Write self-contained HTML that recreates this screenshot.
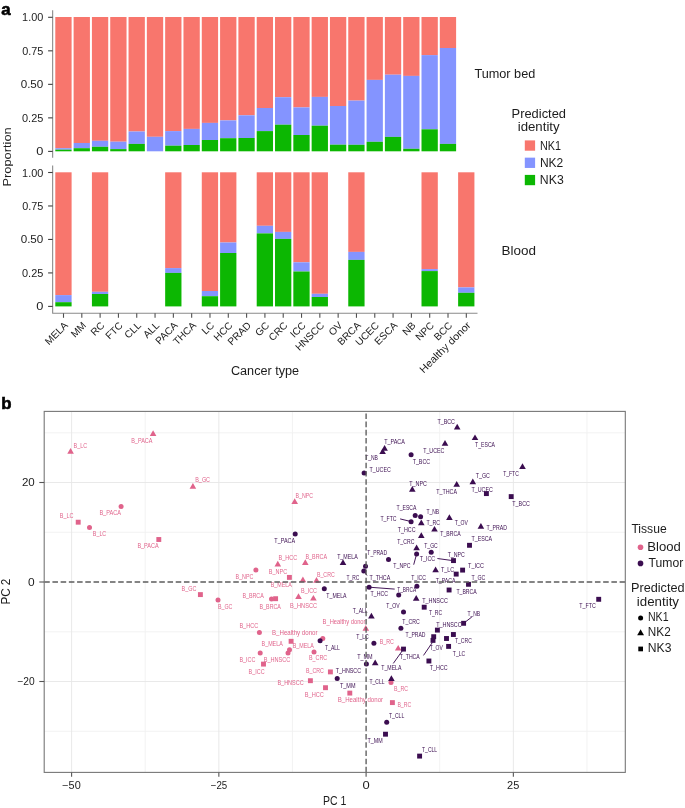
<!DOCTYPE html>
<html><head><meta charset="utf-8"><style>
html,body{margin:0;padding:0;background:#fff;width:685px;height:808px;overflow:hidden}
svg{display:block;will-change:transform}
text{font-family:"Liberation Sans", sans-serif}
</style></head><body>
<svg width="685" height="808" viewBox="0 0 685 808">
<rect width="685" height="808" fill="#fff"/>
<rect x="55.30" y="17.00" width="16.3" height="131.20" fill="#F8766D"/>
<rect x="55.30" y="148.20" width="16.3" height="1.50" fill="#8494FF"/>
<rect x="55.30" y="149.70" width="16.3" height="1.60" fill="#0CB702"/>
<rect x="73.61" y="17.00" width="16.3" height="126.00" fill="#F8766D"/>
<rect x="73.61" y="143.00" width="16.3" height="5.20" fill="#8494FF"/>
<rect x="73.61" y="148.20" width="16.3" height="3.10" fill="#0CB702"/>
<rect x="91.92" y="17.00" width="16.3" height="123.80" fill="#F8766D"/>
<rect x="91.92" y="140.80" width="16.3" height="6.00" fill="#8494FF"/>
<rect x="91.92" y="146.80" width="16.3" height="4.50" fill="#0CB702"/>
<rect x="110.23" y="17.00" width="16.3" height="124.70" fill="#F8766D"/>
<rect x="110.23" y="141.70" width="16.3" height="7.40" fill="#8494FF"/>
<rect x="110.23" y="149.10" width="16.3" height="2.20" fill="#0CB702"/>
<rect x="128.54" y="17.00" width="16.3" height="114.50" fill="#F8766D"/>
<rect x="128.54" y="131.50" width="16.3" height="12.40" fill="#8494FF"/>
<rect x="128.54" y="143.90" width="16.3" height="7.40" fill="#0CB702"/>
<rect x="146.85" y="17.00" width="16.3" height="119.80" fill="#F8766D"/>
<rect x="146.85" y="136.80" width="16.3" height="14.50" fill="#8494FF"/>
<rect x="165.16" y="17.00" width="16.3" height="114.10" fill="#F8766D"/>
<rect x="165.16" y="131.10" width="16.3" height="14.60" fill="#8494FF"/>
<rect x="165.16" y="145.70" width="16.3" height="5.60" fill="#0CB702"/>
<rect x="183.47" y="17.00" width="16.3" height="111.90" fill="#F8766D"/>
<rect x="183.47" y="128.90" width="16.3" height="16.10" fill="#8494FF"/>
<rect x="183.47" y="145.00" width="16.3" height="6.30" fill="#0CB702"/>
<rect x="201.78" y="17.00" width="16.3" height="105.90" fill="#F8766D"/>
<rect x="201.78" y="122.90" width="16.3" height="17.10" fill="#8494FF"/>
<rect x="201.78" y="140.00" width="16.3" height="11.30" fill="#0CB702"/>
<rect x="220.09" y="17.00" width="16.3" height="103.40" fill="#F8766D"/>
<rect x="220.09" y="120.40" width="16.3" height="17.80" fill="#8494FF"/>
<rect x="220.09" y="138.20" width="16.3" height="13.10" fill="#0CB702"/>
<rect x="238.40" y="17.00" width="16.3" height="98.30" fill="#F8766D"/>
<rect x="238.40" y="115.30" width="16.3" height="22.70" fill="#8494FF"/>
<rect x="238.40" y="138.00" width="16.3" height="13.30" fill="#0CB702"/>
<rect x="256.71" y="17.00" width="16.3" height="91.00" fill="#F8766D"/>
<rect x="256.71" y="108.00" width="16.3" height="23.10" fill="#8494FF"/>
<rect x="256.71" y="131.10" width="16.3" height="20.20" fill="#0CB702"/>
<rect x="275.02" y="17.00" width="16.3" height="80.20" fill="#F8766D"/>
<rect x="275.02" y="97.20" width="16.3" height="27.50" fill="#8494FF"/>
<rect x="275.02" y="124.70" width="16.3" height="26.60" fill="#0CB702"/>
<rect x="293.33" y="17.00" width="16.3" height="90.40" fill="#F8766D"/>
<rect x="293.33" y="107.40" width="16.3" height="27.60" fill="#8494FF"/>
<rect x="293.33" y="135.00" width="16.3" height="16.30" fill="#0CB702"/>
<rect x="311.64" y="17.00" width="16.3" height="79.90" fill="#F8766D"/>
<rect x="311.64" y="96.90" width="16.3" height="28.80" fill="#8494FF"/>
<rect x="311.64" y="125.70" width="16.3" height="25.60" fill="#0CB702"/>
<rect x="329.95" y="17.00" width="16.3" height="89.00" fill="#F8766D"/>
<rect x="329.95" y="106.00" width="16.3" height="38.70" fill="#8494FF"/>
<rect x="329.95" y="144.70" width="16.3" height="6.60" fill="#0CB702"/>
<rect x="348.26" y="17.00" width="16.3" height="83.60" fill="#F8766D"/>
<rect x="348.26" y="100.60" width="16.3" height="44.20" fill="#8494FF"/>
<rect x="348.26" y="144.80" width="16.3" height="6.50" fill="#0CB702"/>
<rect x="366.57" y="17.00" width="16.3" height="62.90" fill="#F8766D"/>
<rect x="366.57" y="79.90" width="16.3" height="61.90" fill="#8494FF"/>
<rect x="366.57" y="141.80" width="16.3" height="9.50" fill="#0CB702"/>
<rect x="384.88" y="17.00" width="16.3" height="57.70" fill="#F8766D"/>
<rect x="384.88" y="74.70" width="16.3" height="62.20" fill="#8494FF"/>
<rect x="384.88" y="136.90" width="16.3" height="14.40" fill="#0CB702"/>
<rect x="403.19" y="17.00" width="16.3" height="58.90" fill="#F8766D"/>
<rect x="403.19" y="75.90" width="16.3" height="72.90" fill="#8494FF"/>
<rect x="403.19" y="148.80" width="16.3" height="2.50" fill="#0CB702"/>
<rect x="421.50" y="17.00" width="16.3" height="38.10" fill="#F8766D"/>
<rect x="421.50" y="55.10" width="16.3" height="74.20" fill="#8494FF"/>
<rect x="421.50" y="129.30" width="16.3" height="22.00" fill="#0CB702"/>
<rect x="439.81" y="17.00" width="16.3" height="31.00" fill="#F8766D"/>
<rect x="439.81" y="48.00" width="16.3" height="95.90" fill="#8494FF"/>
<rect x="439.81" y="143.90" width="16.3" height="7.40" fill="#0CB702"/>
<rect x="55.30" y="172.30" width="16.3" height="122.80" fill="#F8766D"/>
<rect x="55.30" y="295.10" width="16.3" height="7.10" fill="#8494FF"/>
<rect x="55.30" y="302.20" width="16.3" height="4.20" fill="#0CB702"/>
<rect x="91.92" y="172.30" width="16.3" height="119.50" fill="#F8766D"/>
<rect x="91.92" y="291.80" width="16.3" height="2.20" fill="#8494FF"/>
<rect x="91.92" y="294.00" width="16.3" height="12.40" fill="#0CB702"/>
<rect x="165.16" y="172.30" width="16.3" height="95.80" fill="#F8766D"/>
<rect x="165.16" y="268.10" width="16.3" height="4.80" fill="#8494FF"/>
<rect x="165.16" y="272.90" width="16.3" height="33.50" fill="#0CB702"/>
<rect x="201.78" y="172.30" width="16.3" height="118.70" fill="#F8766D"/>
<rect x="201.78" y="291.00" width="16.3" height="5.20" fill="#8494FF"/>
<rect x="201.78" y="296.20" width="16.3" height="10.20" fill="#0CB702"/>
<rect x="220.09" y="172.30" width="16.3" height="70.20" fill="#F8766D"/>
<rect x="220.09" y="242.50" width="16.3" height="10.50" fill="#8494FF"/>
<rect x="220.09" y="253.00" width="16.3" height="53.40" fill="#0CB702"/>
<rect x="256.71" y="172.30" width="16.3" height="53.50" fill="#F8766D"/>
<rect x="256.71" y="225.80" width="16.3" height="7.60" fill="#8494FF"/>
<rect x="256.71" y="233.40" width="16.3" height="73.00" fill="#0CB702"/>
<rect x="275.02" y="172.30" width="16.3" height="59.60" fill="#F8766D"/>
<rect x="275.02" y="231.90" width="16.3" height="7.00" fill="#8494FF"/>
<rect x="275.02" y="238.90" width="16.3" height="67.50" fill="#0CB702"/>
<rect x="293.33" y="172.30" width="16.3" height="90.00" fill="#F8766D"/>
<rect x="293.33" y="262.30" width="16.3" height="9.20" fill="#8494FF"/>
<rect x="293.33" y="271.50" width="16.3" height="34.90" fill="#0CB702"/>
<rect x="311.64" y="172.30" width="16.3" height="121.50" fill="#F8766D"/>
<rect x="311.64" y="293.80" width="16.3" height="3.20" fill="#8494FF"/>
<rect x="311.64" y="297.00" width="16.3" height="9.40" fill="#0CB702"/>
<rect x="348.26" y="172.30" width="16.3" height="79.60" fill="#F8766D"/>
<rect x="348.26" y="251.90" width="16.3" height="8.00" fill="#8494FF"/>
<rect x="348.26" y="259.90" width="16.3" height="46.50" fill="#0CB702"/>
<rect x="421.50" y="172.30" width="16.3" height="96.80" fill="#F8766D"/>
<rect x="421.50" y="269.10" width="16.3" height="2.00" fill="#8494FF"/>
<rect x="421.50" y="271.10" width="16.3" height="35.30" fill="#0CB702"/>
<rect x="458.12" y="172.30" width="16.3" height="115.10" fill="#F8766D"/>
<rect x="458.12" y="287.40" width="16.3" height="5.40" fill="#8494FF"/>
<rect x="458.12" y="292.80" width="16.3" height="13.60" fill="#0CB702"/>
<path d="M52.65 10.3V157.8" stroke="#8a8a8a" stroke-width="1.1" fill="none"/>
<path d="M52.65 165.5V313.3H477.5" stroke="#8a8a8a" stroke-width="1.1" fill="none" stroke-linejoin="round"/>
<path d="M48.1 17.30H52.65" stroke="#404040" stroke-width="1.1"/>
<text x="22.12" y="21.30" font-size="10.0" fill="#1c1c1c" textLength="21.15" lengthAdjust="spacingAndGlyphs">1.00</text>
<path d="M48.1 50.83H52.65" stroke="#404040" stroke-width="1.1"/>
<text x="22.23" y="54.83" font-size="10.0" fill="#1c1c1c" textLength="21.08" lengthAdjust="spacingAndGlyphs">0.75</text>
<path d="M48.1 84.35H52.65" stroke="#404040" stroke-width="1.1"/>
<text x="20.70" y="88.35" font-size="10.0" fill="#1c1c1c" textLength="22.61" lengthAdjust="spacingAndGlyphs">0.50</text>
<path d="M48.1 117.87H52.65" stroke="#404040" stroke-width="1.1"/>
<text x="22.02" y="121.87" font-size="10.0" fill="#1c1c1c" textLength="21.29" lengthAdjust="spacingAndGlyphs">0.25</text>
<path d="M48.1 151.40H52.65" stroke="#404040" stroke-width="1.1"/>
<text x="36.25" y="155.40" font-size="10.0" fill="#1c1c1c" textLength="7.10" lengthAdjust="spacingAndGlyphs">0</text>
<path d="M48.1 172.50H52.65" stroke="#404040" stroke-width="1.1"/>
<text x="22.12" y="176.50" font-size="10.0" fill="#1c1c1c" textLength="21.15" lengthAdjust="spacingAndGlyphs">1.00</text>
<path d="M48.1 205.97H52.65" stroke="#404040" stroke-width="1.1"/>
<text x="22.23" y="209.97" font-size="10.0" fill="#1c1c1c" textLength="21.08" lengthAdjust="spacingAndGlyphs">0.75</text>
<path d="M48.1 239.45H52.65" stroke="#404040" stroke-width="1.1"/>
<text x="20.70" y="243.45" font-size="10.0" fill="#1c1c1c" textLength="22.61" lengthAdjust="spacingAndGlyphs">0.50</text>
<path d="M48.1 272.92H52.65" stroke="#404040" stroke-width="1.1"/>
<text x="22.02" y="276.92" font-size="10.0" fill="#1c1c1c" textLength="21.29" lengthAdjust="spacingAndGlyphs">0.25</text>
<path d="M48.1 306.40H52.65" stroke="#404040" stroke-width="1.1"/>
<text x="36.25" y="310.40" font-size="10.0" fill="#1c1c1c" textLength="7.10" lengthAdjust="spacingAndGlyphs">0</text>
<path d="M63.50 313.3V317.8" stroke="#505050" stroke-width="1.1"/>
<path d="M81.81 313.3V317.8" stroke="#505050" stroke-width="1.1"/>
<path d="M100.12 313.3V317.8" stroke="#505050" stroke-width="1.1"/>
<path d="M118.43 313.3V317.8" stroke="#505050" stroke-width="1.1"/>
<path d="M136.74 313.3V317.8" stroke="#505050" stroke-width="1.1"/>
<path d="M155.05 313.3V317.8" stroke="#505050" stroke-width="1.1"/>
<path d="M173.36 313.3V317.8" stroke="#505050" stroke-width="1.1"/>
<path d="M191.67 313.3V317.8" stroke="#505050" stroke-width="1.1"/>
<path d="M209.98 313.3V317.8" stroke="#505050" stroke-width="1.1"/>
<path d="M228.29 313.3V317.8" stroke="#505050" stroke-width="1.1"/>
<path d="M246.60 313.3V317.8" stroke="#505050" stroke-width="1.1"/>
<path d="M264.91 313.3V317.8" stroke="#505050" stroke-width="1.1"/>
<path d="M283.22 313.3V317.8" stroke="#505050" stroke-width="1.1"/>
<path d="M301.53 313.3V317.8" stroke="#505050" stroke-width="1.1"/>
<path d="M319.84 313.3V317.8" stroke="#505050" stroke-width="1.1"/>
<path d="M338.15 313.3V317.8" stroke="#505050" stroke-width="1.1"/>
<path d="M356.46 313.3V317.8" stroke="#505050" stroke-width="1.1"/>
<path d="M374.77 313.3V317.8" stroke="#505050" stroke-width="1.1"/>
<path d="M393.08 313.3V317.8" stroke="#505050" stroke-width="1.1"/>
<path d="M411.39 313.3V317.8" stroke="#505050" stroke-width="1.1"/>
<path d="M429.70 313.3V317.8" stroke="#505050" stroke-width="1.1"/>
<path d="M448.01 313.3V317.8" stroke="#505050" stroke-width="1.1"/>
<path d="M466.32 313.3V317.8" stroke="#505050" stroke-width="1.1"/>
<text x="63.40" y="320.90" font-size="10.1" fill="#1c1c1c" text-anchor="end" transform="rotate(-45 63.40 320.90)" dy="7.2">MELA</text>
<text x="81.71" y="320.90" font-size="10.1" fill="#1c1c1c" text-anchor="end" transform="rotate(-45 81.71 320.90)" dy="7.2">MM</text>
<text x="100.02" y="320.90" font-size="10.1" fill="#1c1c1c" text-anchor="end" transform="rotate(-45 100.02 320.90)" dy="7.2">RC</text>
<text x="118.33" y="320.90" font-size="10.1" fill="#1c1c1c" text-anchor="end" transform="rotate(-45 118.33 320.90)" dy="7.2">FTC</text>
<text x="136.64" y="320.90" font-size="10.1" fill="#1c1c1c" text-anchor="end" transform="rotate(-45 136.64 320.90)" dy="7.2">CLL</text>
<text x="154.95" y="320.90" font-size="10.1" fill="#1c1c1c" text-anchor="end" transform="rotate(-45 154.95 320.90)" dy="7.2">ALL</text>
<text x="173.26" y="320.90" font-size="10.1" fill="#1c1c1c" text-anchor="end" transform="rotate(-45 173.26 320.90)" dy="7.2">PACA</text>
<text x="191.57" y="320.90" font-size="10.1" fill="#1c1c1c" text-anchor="end" transform="rotate(-45 191.57 320.90)" dy="7.2">THCA</text>
<text x="209.88" y="320.90" font-size="10.1" fill="#1c1c1c" text-anchor="end" transform="rotate(-45 209.88 320.90)" dy="7.2">LC</text>
<text x="228.19" y="320.90" font-size="10.1" fill="#1c1c1c" text-anchor="end" transform="rotate(-45 228.19 320.90)" dy="7.2">HCC</text>
<text x="246.50" y="320.90" font-size="10.1" fill="#1c1c1c" text-anchor="end" transform="rotate(-45 246.50 320.90)" dy="7.2">PRAD</text>
<text x="264.81" y="320.90" font-size="10.1" fill="#1c1c1c" text-anchor="end" transform="rotate(-45 264.81 320.90)" dy="7.2">GC</text>
<text x="283.12" y="320.90" font-size="10.1" fill="#1c1c1c" text-anchor="end" transform="rotate(-45 283.12 320.90)" dy="7.2">CRC</text>
<text x="301.43" y="320.90" font-size="10.1" fill="#1c1c1c" text-anchor="end" transform="rotate(-45 301.43 320.90)" dy="7.2">ICC</text>
<text x="319.74" y="320.90" font-size="10.1" fill="#1c1c1c" text-anchor="end" transform="rotate(-45 319.74 320.90)" dy="7.2">HNSCC</text>
<text x="338.05" y="320.90" font-size="10.1" fill="#1c1c1c" text-anchor="end" transform="rotate(-45 338.05 320.90)" dy="7.2">OV</text>
<text x="356.36" y="320.90" font-size="10.1" fill="#1c1c1c" text-anchor="end" transform="rotate(-45 356.36 320.90)" dy="7.2">BRCA</text>
<text x="374.67" y="320.90" font-size="10.1" fill="#1c1c1c" text-anchor="end" transform="rotate(-45 374.67 320.90)" dy="7.2">UCEC</text>
<text x="392.98" y="320.90" font-size="10.1" fill="#1c1c1c" text-anchor="end" transform="rotate(-45 392.98 320.90)" dy="7.2">ESCA</text>
<text x="411.29" y="320.90" font-size="10.1" fill="#1c1c1c" text-anchor="end" transform="rotate(-45 411.29 320.90)" dy="7.2">NB</text>
<text x="429.60" y="320.90" font-size="10.1" fill="#1c1c1c" text-anchor="end" transform="rotate(-45 429.60 320.90)" dy="7.2">NPC</text>
<text x="447.91" y="320.90" font-size="10.1" fill="#1c1c1c" text-anchor="end" transform="rotate(-45 447.91 320.90)" dy="7.2">BCC</text>
<text x="466.22" y="320.90" font-size="10.4" fill="#1c1c1c" text-anchor="end" transform="rotate(-45 466.22 320.90)" dy="7.2" textLength="67.4" lengthAdjust="spacingAndGlyphs">Healthy donor</text>
<text x="1.20" y="14.60" font-size="16.8" fill="#000" font-weight="bold" stroke="#000" stroke-width="0.6">a</text>
<text x="0" y="0" font-size="11.5" fill="#1c1c1c" textLength="59.08" lengthAdjust="spacingAndGlyphs" transform="translate(11.10 186.45) rotate(-90)">Proportion</text>
<text x="230.95" y="374.60" font-size="12" fill="#1c1c1c" textLength="68.21" lengthAdjust="spacingAndGlyphs">Cancer type</text>
<text x="474.42" y="78.10" font-size="12" fill="#1c1c1c" textLength="60.90" lengthAdjust="spacingAndGlyphs">Tumor bed</text>
<text x="501.49" y="255.30" font-size="12" fill="#1c1c1c" textLength="34.48" lengthAdjust="spacingAndGlyphs">Blood</text>
<text x="511.54" y="117.80" font-size="12" fill="#1c1c1c" textLength="54.49" lengthAdjust="spacingAndGlyphs">Predicted</text>
<text x="517.71" y="131.00" font-size="12" fill="#1c1c1c" textLength="41.92" lengthAdjust="spacingAndGlyphs">identity</text>
<rect x="524.8" y="140.40" width="10.3" height="10.3" fill="#F8766D"/>
<text x="540.01" y="149.60" font-size="12" fill="#1c1c1c" textLength="21.02" lengthAdjust="spacingAndGlyphs">NK1</text>
<rect x="524.8" y="157.65" width="10.3" height="10.3" fill="#8494FF"/>
<text x="539.91" y="166.85" font-size="12" fill="#1c1c1c" textLength="23.39" lengthAdjust="spacingAndGlyphs">NK2</text>
<rect x="524.8" y="174.90" width="10.3" height="10.3" fill="#0CB702"/>
<text x="539.89" y="184.10" font-size="12" fill="#1c1c1c" textLength="23.85" lengthAdjust="spacingAndGlyphs">NK3</text>
<text x="1.20" y="408.80" font-size="16.8" fill="#000" font-weight="bold" stroke="#000" stroke-width="0.6">b</text>
<g stroke-width="0.9" fill="none">
<path d="M145.23 411.4V772.4" stroke="#F1F1F1"/>
<path d="M292.48 411.4V772.4" stroke="#F1F1F1"/>
<path d="M439.73 411.4V772.4" stroke="#F1F1F1"/>
<path d="M586.98 411.4V772.4" stroke="#F1F1F1"/>
<path d="M44.2 731.25H625.3" stroke="#F1F1F1"/>
<path d="M44.2 631.75H625.3" stroke="#F1F1F1"/>
<path d="M44.2 532.25H625.3" stroke="#F1F1F1"/>
<path d="M44.2 432.75H625.3" stroke="#F1F1F1"/>
<path d="M71.60 411.4V772.4" stroke="#E6E6E6"/>
<path d="M218.85 411.4V772.4" stroke="#E6E6E6"/>
<path d="M513.35 411.4V772.4" stroke="#E6E6E6"/>
<path d="M44.2 681.50H625.3" stroke="#E6E6E6"/>
<path d="M44.2 482.50H625.3" stroke="#E6E6E6"/>
</g>
<text x="73.61" y="447.70" font-size="6.4" fill="#E0638B" textLength="13.55" lengthAdjust="spacingAndGlyphs">B<tspan dy="-0.9">_</tspan><tspan dy="0.9">LC</tspan></text>
<text x="131.20" y="443.10" font-size="6.4" fill="#E0638B" textLength="21.26" lengthAdjust="spacingAndGlyphs">B<tspan dy="-0.9">_</tspan><tspan dy="0.9">PACA</tspan></text>
<text x="195.20" y="482.10" font-size="6.4" fill="#E0638B" textLength="14.86" lengthAdjust="spacingAndGlyphs">B<tspan dy="-0.9">_</tspan><tspan dy="0.9">GC</tspan></text>
<text x="99.39" y="514.90" font-size="6.4" fill="#E0638B" textLength="21.57" lengthAdjust="spacingAndGlyphs">B<tspan dy="-0.9">_</tspan><tspan dy="0.9">PACA</tspan></text>
<text x="59.80" y="518.10" font-size="6.4" fill="#E0638B" textLength="13.66" lengthAdjust="spacingAndGlyphs">B<tspan dy="-0.9">_</tspan><tspan dy="0.9">LC</tspan></text>
<text x="92.81" y="536.10" font-size="6.4" fill="#E0638B" textLength="13.45" lengthAdjust="spacingAndGlyphs">B<tspan dy="-0.9">_</tspan><tspan dy="0.9">LC</tspan></text>
<text x="137.40" y="547.80" font-size="6.4" fill="#E0638B" textLength="21.26" lengthAdjust="spacingAndGlyphs">B<tspan dy="-0.9">_</tspan><tspan dy="0.9">PACA</tspan></text>
<text x="295.62" y="497.70" font-size="6.4" fill="#E0638B" textLength="17.43" lengthAdjust="spacingAndGlyphs">B<tspan dy="-0.9">_</tspan><tspan dy="0.9">NPC</tspan></text>
<text x="235.61" y="579.00" font-size="6.4" fill="#E0638B" textLength="17.74" lengthAdjust="spacingAndGlyphs">B<tspan dy="-0.9">_</tspan><tspan dy="0.9">NPC</tspan></text>
<text x="181.61" y="591.10" font-size="6.4" fill="#E0638B" textLength="14.75" lengthAdjust="spacingAndGlyphs">B<tspan dy="-0.9">_</tspan><tspan dy="0.9">GC</tspan></text>
<text x="217.92" y="608.80" font-size="6.4" fill="#E0638B" textLength="14.44" lengthAdjust="spacingAndGlyphs">B<tspan dy="-0.9">_</tspan><tspan dy="0.9">GC</tspan></text>
<text x="278.60" y="560.30" font-size="6.4" fill="#E0638B" textLength="18.56" lengthAdjust="spacingAndGlyphs">B<tspan dy="-0.9">_</tspan><tspan dy="0.9">HCC</tspan></text>
<text x="305.51" y="558.90" font-size="6.4" fill="#E0638B" textLength="21.55" lengthAdjust="spacingAndGlyphs">B<tspan dy="-0.9">_</tspan><tspan dy="0.9">BRCA</tspan></text>
<text x="268.80" y="573.70" font-size="6.4" fill="#E0638B" textLength="18.36" lengthAdjust="spacingAndGlyphs">B<tspan dy="-0.9">_</tspan><tspan dy="0.9">NPC</tspan></text>
<text x="270.82" y="586.90" font-size="6.4" fill="#E0638B" textLength="20.85" lengthAdjust="spacingAndGlyphs">B<tspan dy="-0.9">_</tspan><tspan dy="0.9">MELA</tspan></text>
<text x="316.92" y="577.20" font-size="6.4" fill="#E0638B" textLength="17.83" lengthAdjust="spacingAndGlyphs">B<tspan dy="-0.9">_</tspan><tspan dy="0.9">CRC</tspan></text>
<text x="301.00" y="592.50" font-size="6.4" fill="#E0638B" textLength="16.06" lengthAdjust="spacingAndGlyphs">B<tspan dy="-0.9">_</tspan><tspan dy="0.9">ICC</tspan></text>
<text x="290.09" y="607.60" font-size="6.4" fill="#E0638B" textLength="26.98" lengthAdjust="spacingAndGlyphs">B<tspan dy="-0.9">_</tspan><tspan dy="0.9">HNSCC</tspan></text>
<text x="242.41" y="598.00" font-size="6.4" fill="#E0638B" textLength="21.35" lengthAdjust="spacingAndGlyphs">B<tspan dy="-0.9">_</tspan><tspan dy="0.9">BRCA</tspan></text>
<text x="259.61" y="609.30" font-size="6.4" fill="#E0638B" textLength="21.24" lengthAdjust="spacingAndGlyphs">B<tspan dy="-0.9">_</tspan><tspan dy="0.9">BRCA</tspan></text>
<text x="239.40" y="628.10" font-size="6.4" fill="#E0638B" textLength="18.76" lengthAdjust="spacingAndGlyphs">B<tspan dy="-0.9">_</tspan><tspan dy="0.9">HCC</tspan></text>
<text x="272.05" y="635.30" font-size="6.4" fill="#E0638B" textLength="45.41" lengthAdjust="spacingAndGlyphs">B<tspan dy="-0.9">_</tspan><tspan dy="0.9">Healthy donor</tspan></text>
<text x="261.61" y="646.00" font-size="6.4" fill="#E0638B" textLength="21.15" lengthAdjust="spacingAndGlyphs">B<tspan dy="-0.9">_</tspan><tspan dy="0.9">MELA</tspan></text>
<text x="292.71" y="647.90" font-size="6.4" fill="#E0638B" textLength="21.15" lengthAdjust="spacingAndGlyphs">B<tspan dy="-0.9">_</tspan><tspan dy="0.9">MELA</tspan></text>
<text x="263.69" y="661.60" font-size="6.4" fill="#E0638B" textLength="26.67" lengthAdjust="spacingAndGlyphs">B<tspan dy="-0.9">_</tspan><tspan dy="0.9">HNSCC</tspan></text>
<text x="309.01" y="660.40" font-size="6.4" fill="#E0638B" textLength="18.14" lengthAdjust="spacingAndGlyphs">B<tspan dy="-0.9">_</tspan><tspan dy="0.9">CRC</tspan></text>
<text x="239.41" y="661.80" font-size="6.4" fill="#E0638B" textLength="15.95" lengthAdjust="spacingAndGlyphs">B<tspan dy="-0.9">_</tspan><tspan dy="0.9">ICC</tspan></text>
<text x="248.61" y="673.50" font-size="6.4" fill="#E0638B" textLength="15.95" lengthAdjust="spacingAndGlyphs">B<tspan dy="-0.9">_</tspan><tspan dy="0.9">ICC</tspan></text>
<text x="306.02" y="673.00" font-size="6.4" fill="#E0638B" textLength="17.83" lengthAdjust="spacingAndGlyphs">B<tspan dy="-0.9">_</tspan><tspan dy="0.9">CRC</tspan></text>
<text x="277.40" y="684.90" font-size="6.4" fill="#E0638B" textLength="26.26" lengthAdjust="spacingAndGlyphs">B<tspan dy="-0.9">_</tspan><tspan dy="0.9">HNSCC</tspan></text>
<text x="304.79" y="696.60" font-size="6.4" fill="#E0638B" textLength="19.07" lengthAdjust="spacingAndGlyphs">B<tspan dy="-0.9">_</tspan><tspan dy="0.9">HCC</tspan></text>
<text x="337.75" y="702.20" font-size="6.4" fill="#E0638B" textLength="45.30" lengthAdjust="spacingAndGlyphs">B<tspan dy="-0.9">_</tspan><tspan dy="0.9">Healthy donor</tspan></text>
<text x="322.58" y="624.40" font-size="6.4" fill="#E0638B" textLength="42.87" lengthAdjust="spacingAndGlyphs">B<tspan dy="-0.9">_</tspan><tspan dy="0.9">Healthy donor</tspan></text>
<text x="379.82" y="644.20" font-size="6.4" fill="#E0638B" textLength="14.14" lengthAdjust="spacingAndGlyphs">B<tspan dy="-0.9">_</tspan><tspan dy="0.9">RC</tspan></text>
<text x="394.02" y="691.10" font-size="6.4" fill="#E0638B" textLength="13.93" lengthAdjust="spacingAndGlyphs">B<tspan dy="-0.9">_</tspan><tspan dy="0.9">RC</tspan></text>
<text x="397.43" y="706.50" font-size="6.4" fill="#E0638B" textLength="13.72" lengthAdjust="spacingAndGlyphs">B<tspan dy="-0.9">_</tspan><tspan dy="0.9">RC</tspan></text>
<text x="384.13" y="444.20" font-size="6.4" fill="#3B0D50" textLength="20.73" lengthAdjust="spacingAndGlyphs">T<tspan dy="-0.9">_</tspan><tspan dy="0.9">PACA</tspan></text>
<text x="365.14" y="460.20" font-size="6.4" fill="#3B0D50" textLength="12.78" lengthAdjust="spacingAndGlyphs">T<tspan dy="-0.9">_</tspan><tspan dy="0.9">NB</tspan></text>
<text x="412.63" y="464.20" font-size="6.4" fill="#3B0D50" textLength="17.52" lengthAdjust="spacingAndGlyphs">T<tspan dy="-0.9">_</tspan><tspan dy="0.9">BCC</tspan></text>
<text x="423.13" y="452.90" font-size="6.4" fill="#3B0D50" textLength="21.32" lengthAdjust="spacingAndGlyphs">T<tspan dy="-0.9">_</tspan><tspan dy="0.9">UCEC</tspan></text>
<text x="437.43" y="423.70" font-size="6.4" fill="#3B0D50" textLength="17.52" lengthAdjust="spacingAndGlyphs">T<tspan dy="-0.9">_</tspan><tspan dy="0.9">BCC</tspan></text>
<text x="369.53" y="471.90" font-size="6.4" fill="#3B0D50" textLength="21.22" lengthAdjust="spacingAndGlyphs">T<tspan dy="-0.9">_</tspan><tspan dy="0.9">UCEC</tspan></text>
<text x="475.04" y="447.40" font-size="6.4" fill="#3B0D50" textLength="20.02" lengthAdjust="spacingAndGlyphs">T<tspan dy="-0.9">_</tspan><tspan dy="0.9">ESCA</tspan></text>
<text x="503.14" y="476.30" font-size="6.4" fill="#3B0D50" textLength="15.70" lengthAdjust="spacingAndGlyphs">T<tspan dy="-0.9">_</tspan><tspan dy="0.9">FTC</tspan></text>
<text x="475.83" y="478.10" font-size="6.4" fill="#3B0D50" textLength="14.12" lengthAdjust="spacingAndGlyphs">T<tspan dy="-0.9">_</tspan><tspan dy="0.9">GC</tspan></text>
<text x="436.23" y="494.00" font-size="6.4" fill="#3B0D50" textLength="20.73" lengthAdjust="spacingAndGlyphs">T<tspan dy="-0.9">_</tspan><tspan dy="0.9">THCA</tspan></text>
<text x="471.43" y="491.50" font-size="6.4" fill="#3B0D50" textLength="21.42" lengthAdjust="spacingAndGlyphs">T<tspan dy="-0.9">_</tspan><tspan dy="0.9">UCEC</tspan></text>
<text x="512.33" y="505.70" font-size="6.4" fill="#3B0D50" textLength="17.52" lengthAdjust="spacingAndGlyphs">T<tspan dy="-0.9">_</tspan><tspan dy="0.9">BCC</tspan></text>
<text x="454.64" y="525.10" font-size="6.4" fill="#3B0D50" textLength="13.24" lengthAdjust="spacingAndGlyphs">T<tspan dy="-0.9">_</tspan><tspan dy="0.9">OV</tspan></text>
<text x="486.44" y="529.80" font-size="6.4" fill="#3B0D50" textLength="20.57" lengthAdjust="spacingAndGlyphs">T<tspan dy="-0.9">_</tspan><tspan dy="0.9">PRAD</tspan></text>
<text x="440.34" y="536.30" font-size="6.4" fill="#3B0D50" textLength="20.22" lengthAdjust="spacingAndGlyphs">T<tspan dy="-0.9">_</tspan><tspan dy="0.9">BRCA</tspan></text>
<text x="471.43" y="541.30" font-size="6.4" fill="#3B0D50" textLength="20.73" lengthAdjust="spacingAndGlyphs">T<tspan dy="-0.9">_</tspan><tspan dy="0.9">ESCA</tspan></text>
<text x="409.33" y="485.70" font-size="6.4" fill="#3B0D50" textLength="17.62" lengthAdjust="spacingAndGlyphs">T<tspan dy="-0.9">_</tspan><tspan dy="0.9">NPC</tspan></text>
<text x="396.54" y="509.60" font-size="6.4" fill="#3B0D50" textLength="19.92" lengthAdjust="spacingAndGlyphs">T<tspan dy="-0.9">_</tspan><tspan dy="0.9">ESCA</tspan></text>
<text x="426.44" y="513.70" font-size="6.4" fill="#3B0D50" textLength="12.78" lengthAdjust="spacingAndGlyphs">T<tspan dy="-0.9">_</tspan><tspan dy="0.9">NB</tspan></text>
<text x="380.44" y="521.30" font-size="6.4" fill="#3B0D50" textLength="16.11" lengthAdjust="spacingAndGlyphs">T<tspan dy="-0.9">_</tspan><tspan dy="0.9">FTC</tspan></text>
<text x="426.44" y="524.60" font-size="6.4" fill="#3B0D50" textLength="13.61" lengthAdjust="spacingAndGlyphs">T<tspan dy="-0.9">_</tspan><tspan dy="0.9">RC</tspan></text>
<text x="397.73" y="532.40" font-size="6.4" fill="#3B0D50" textLength="17.82" lengthAdjust="spacingAndGlyphs">T<tspan dy="-0.9">_</tspan><tspan dy="0.9">HCC</tspan></text>
<text x="397.24" y="544.10" font-size="6.4" fill="#3B0D50" textLength="17.11" lengthAdjust="spacingAndGlyphs">T<tspan dy="-0.9">_</tspan><tspan dy="0.9">CRC</tspan></text>
<text x="424.24" y="548.10" font-size="6.4" fill="#3B0D50" textLength="13.50" lengthAdjust="spacingAndGlyphs">T<tspan dy="-0.9">_</tspan><tspan dy="0.9">GC</tspan></text>
<text x="367.34" y="555.40" font-size="6.4" fill="#3B0D50" textLength="19.75" lengthAdjust="spacingAndGlyphs">T<tspan dy="-0.9">_</tspan><tspan dy="0.9">PRAD</tspan></text>
<text x="393.34" y="568.10" font-size="6.4" fill="#3B0D50" textLength="17.12" lengthAdjust="spacingAndGlyphs">T<tspan dy="-0.9">_</tspan><tspan dy="0.9">NPC</tspan></text>
<text x="419.63" y="560.90" font-size="6.4" fill="#3B0D50" textLength="15.63" lengthAdjust="spacingAndGlyphs">T<tspan dy="-0.9">_</tspan><tspan dy="0.9">ICC</tspan></text>
<text x="447.63" y="556.50" font-size="6.4" fill="#3B0D50" textLength="17.22" lengthAdjust="spacingAndGlyphs">T<tspan dy="-0.9">_</tspan><tspan dy="0.9">NPC</tspan></text>
<text x="441.03" y="571.90" font-size="6.4" fill="#3B0D50" textLength="13.23" lengthAdjust="spacingAndGlyphs">T<tspan dy="-0.9">_</tspan><tspan dy="0.9">LC</tspan></text>
<text x="435.64" y="583.20" font-size="6.4" fill="#3B0D50" textLength="19.82" lengthAdjust="spacingAndGlyphs">T<tspan dy="-0.9">_</tspan><tspan dy="0.9">PACA</tspan></text>
<text x="468.03" y="567.90" font-size="6.4" fill="#3B0D50" textLength="15.83" lengthAdjust="spacingAndGlyphs">T<tspan dy="-0.9">_</tspan><tspan dy="0.9">ICC</tspan></text>
<text x="471.44" y="579.80" font-size="6.4" fill="#3B0D50" textLength="13.91" lengthAdjust="spacingAndGlyphs">T<tspan dy="-0.9">_</tspan><tspan dy="0.9">GC</tspan></text>
<text x="456.44" y="594.10" font-size="6.4" fill="#3B0D50" textLength="20.22" lengthAdjust="spacingAndGlyphs">T<tspan dy="-0.9">_</tspan><tspan dy="0.9">BRCA</tspan></text>
<text x="369.53" y="579.50" font-size="6.4" fill="#3B0D50" textLength="20.73" lengthAdjust="spacingAndGlyphs">T<tspan dy="-0.9">_</tspan><tspan dy="0.9">THCA</tspan></text>
<text x="411.14" y="579.80" font-size="6.4" fill="#3B0D50" textLength="14.91" lengthAdjust="spacingAndGlyphs">T<tspan dy="-0.9">_</tspan><tspan dy="0.9">ICC</tspan></text>
<text x="397.25" y="591.50" font-size="6.4" fill="#3B0D50" textLength="18.82" lengthAdjust="spacingAndGlyphs">T<tspan dy="-0.9">_</tspan><tspan dy="0.9">BRCA</tspan></text>
<text x="370.53" y="596.30" font-size="6.4" fill="#3B0D50" textLength="17.52" lengthAdjust="spacingAndGlyphs">T<tspan dy="-0.9">_</tspan><tspan dy="0.9">HCC</tspan></text>
<text x="422.13" y="602.70" font-size="6.4" fill="#3B0D50" textLength="25.73" lengthAdjust="spacingAndGlyphs">T<tspan dy="-0.9">_</tspan><tspan dy="0.9">HNSCC</tspan></text>
<text x="428.94" y="615.40" font-size="6.4" fill="#3B0D50" textLength="13.10" lengthAdjust="spacingAndGlyphs">T<tspan dy="-0.9">_</tspan><tspan dy="0.9">RC</tspan></text>
<text x="386.34" y="607.70" font-size="6.4" fill="#3B0D50" textLength="13.24" lengthAdjust="spacingAndGlyphs">T<tspan dy="-0.9">_</tspan><tspan dy="0.9">OV</tspan></text>
<text x="352.74" y="612.50" font-size="6.4" fill="#3B0D50" textLength="14.88" lengthAdjust="spacingAndGlyphs">T<tspan dy="-0.9">_</tspan><tspan dy="0.9">ALL</tspan></text>
<text x="402.34" y="623.80" font-size="6.4" fill="#3B0D50" textLength="17.31" lengthAdjust="spacingAndGlyphs">T<tspan dy="-0.9">_</tspan><tspan dy="0.9">CRC</tspan></text>
<text x="436.23" y="627.10" font-size="6.4" fill="#3B0D50" textLength="25.42" lengthAdjust="spacingAndGlyphs">T<tspan dy="-0.9">_</tspan><tspan dy="0.9">HNSCC</tspan></text>
<text x="405.54" y="636.90" font-size="6.4" fill="#3B0D50" textLength="19.96" lengthAdjust="spacingAndGlyphs">T<tspan dy="-0.9">_</tspan><tspan dy="0.9">PRAD</tspan></text>
<text x="429.84" y="649.50" font-size="6.4" fill="#3B0D50" textLength="12.93" lengthAdjust="spacingAndGlyphs">T<tspan dy="-0.9">_</tspan><tspan dy="0.9">OV</tspan></text>
<text x="356.24" y="638.80" font-size="6.4" fill="#3B0D50" textLength="12.61" lengthAdjust="spacingAndGlyphs">T<tspan dy="-0.9">_</tspan><tspan dy="0.9">LC</tspan></text>
<text x="467.44" y="615.70" font-size="6.4" fill="#3B0D50" textLength="12.78" lengthAdjust="spacingAndGlyphs">T<tspan dy="-0.9">_</tspan><tspan dy="0.9">NB</tspan></text>
<text x="454.94" y="643.20" font-size="6.4" fill="#3B0D50" textLength="16.91" lengthAdjust="spacingAndGlyphs">T<tspan dy="-0.9">_</tspan><tspan dy="0.9">CRC</tspan></text>
<text x="452.84" y="655.90" font-size="6.4" fill="#3B0D50" textLength="12.30" lengthAdjust="spacingAndGlyphs">T<tspan dy="-0.9">_</tspan><tspan dy="0.9">LC</tspan></text>
<text x="399.74" y="658.70" font-size="6.4" fill="#3B0D50" textLength="20.02" lengthAdjust="spacingAndGlyphs">T<tspan dy="-0.9">_</tspan><tspan dy="0.9">THCA</tspan></text>
<text x="357.13" y="659.40" font-size="6.4" fill="#3B0D50" textLength="15.47" lengthAdjust="spacingAndGlyphs">T<tspan dy="-0.9">_</tspan><tspan dy="0.9">MM</tspan></text>
<text x="381.24" y="669.60" font-size="6.4" fill="#3B0D50" textLength="20.23" lengthAdjust="spacingAndGlyphs">T<tspan dy="-0.9">_</tspan><tspan dy="0.9">MELA</tspan></text>
<text x="429.83" y="669.60" font-size="6.4" fill="#3B0D50" textLength="17.82" lengthAdjust="spacingAndGlyphs">T<tspan dy="-0.9">_</tspan><tspan dy="0.9">HCC</tspan></text>
<text x="369.54" y="683.80" font-size="6.4" fill="#3B0D50" textLength="14.98" lengthAdjust="spacingAndGlyphs">T<tspan dy="-0.9">_</tspan><tspan dy="0.9">CLL</tspan></text>
<text x="335.83" y="673.00" font-size="6.4" fill="#3B0D50" textLength="25.22" lengthAdjust="spacingAndGlyphs">T<tspan dy="-0.9">_</tspan><tspan dy="0.9">HNSCC</tspan></text>
<text x="339.93" y="687.60" font-size="6.4" fill="#3B0D50" textLength="15.57" lengthAdjust="spacingAndGlyphs">T<tspan dy="-0.9">_</tspan><tspan dy="0.9">MM</tspan></text>
<text x="325.04" y="649.50" font-size="6.4" fill="#3B0D50" textLength="14.88" lengthAdjust="spacingAndGlyphs">T<tspan dy="-0.9">_</tspan><tspan dy="0.9">ALL</tspan></text>
<text x="388.94" y="718.00" font-size="6.4" fill="#3B0D50" textLength="15.28" lengthAdjust="spacingAndGlyphs">T<tspan dy="-0.9">_</tspan><tspan dy="0.9">CLL</tspan></text>
<text x="367.43" y="743.10" font-size="6.4" fill="#3B0D50" textLength="15.16" lengthAdjust="spacingAndGlyphs">T<tspan dy="-0.9">_</tspan><tspan dy="0.9">MM</tspan></text>
<text x="422.04" y="751.90" font-size="6.4" fill="#3B0D50" textLength="15.08" lengthAdjust="spacingAndGlyphs">T<tspan dy="-0.9">_</tspan><tspan dy="0.9">CLL</tspan></text>
<text x="579.33" y="608.00" font-size="6.4" fill="#3B0D50" textLength="16.52" lengthAdjust="spacingAndGlyphs">T<tspan dy="-0.9">_</tspan><tspan dy="0.9">FTC</tspan></text>
<text x="337.13" y="558.60" font-size="6.4" fill="#3B0D50" textLength="20.53" lengthAdjust="spacingAndGlyphs">T<tspan dy="-0.9">_</tspan><tspan dy="0.9">MELA</tspan></text>
<text x="346.54" y="579.90" font-size="6.4" fill="#3B0D50" textLength="12.80" lengthAdjust="spacingAndGlyphs">T<tspan dy="-0.9">_</tspan><tspan dy="0.9">RC</tspan></text>
<text x="326.34" y="597.70" font-size="6.4" fill="#3B0D50" textLength="20.23" lengthAdjust="spacingAndGlyphs">T<tspan dy="-0.9">_</tspan><tspan dy="0.9">MELA</tspan></text>
<text x="274.33" y="542.70" font-size="6.4" fill="#3B0D50" textLength="20.73" lengthAdjust="spacingAndGlyphs">T<tspan dy="-0.9">_</tspan><tspan dy="0.9">PACA</tspan></text>
<path d="M400.1 518.9L410.4 521.4" stroke="#3B0D50" stroke-width="0.95"/>
<path d="M416.6 554.1L413.7 564.7" stroke="#3B0D50" stroke-width="0.95"/>
<path d="M437.4 558.5L453.4 560.7" stroke="#3B0D50" stroke-width="0.95"/>
<path d="M364.1 571.2L367.0 575.5" stroke="#3B0D50" stroke-width="0.95"/>
<path d="M369.1 587.2L394.7 589.1" stroke="#3B0D50" stroke-width="0.95"/>
<path d="M463.6 623.3L471.8 617.0" stroke="#3B0D50" stroke-width="0.95"/>
<path d="M432.3 642.6L423.5 655.4" stroke="#3B0D50" stroke-width="0.95"/>
<path d="M403.5 649.1L393.3 663.4" stroke="#3B0D50" stroke-width="0.95"/>
<path d="M70.60 448.09L73.90 453.81L67.30 453.81Z" fill="#E0638B"/>
<path d="M153.10 430.29L156.40 436.01L149.80 436.01Z" fill="#E0638B"/>
<path d="M192.90 482.99L196.20 488.71L189.60 488.71Z" fill="#E0638B"/>
<circle cx="121.1" cy="506.4" r="2.5" fill="#E0638B"/>
<rect x="75.75" y="519.75" width="4.9" height="4.9" fill="#E0638B"/>
<circle cx="89.5" cy="527.4" r="2.5" fill="#E0638B"/>
<rect x="156.35" y="537.05" width="4.9" height="4.9" fill="#E0638B"/>
<path d="M294.70 498.29L298.00 504.01L291.40 504.01Z" fill="#E0638B"/>
<circle cx="255.9" cy="569.9" r="2.5" fill="#E0638B"/>
<rect x="197.95" y="592.15" width="4.9" height="4.9" fill="#E0638B"/>
<circle cx="218.0" cy="599.9" r="2.5" fill="#E0638B"/>
<path d="M277.80 560.69L281.10 566.41L274.50 566.41Z" fill="#E0638B"/>
<path d="M305.30 559.29L308.60 565.01L302.00 565.01Z" fill="#E0638B"/>
<rect x="286.95" y="574.95" width="4.9" height="4.9" fill="#E0638B"/>
<path d="M302.90 576.59L306.20 582.31L299.60 582.31Z" fill="#E0638B"/>
<path d="M316.50 577.09L319.80 582.81L313.20 582.81Z" fill="#E0638B"/>
<path d="M298.50 593.29L301.80 599.01L295.20 599.01Z" fill="#E0638B"/>
<path d="M313.40 594.89L316.70 600.61L310.10 600.61Z" fill="#E0638B"/>
<circle cx="271.5" cy="599.0" r="2.5" fill="#E0638B"/>
<rect x="273.15" y="596.25" width="4.9" height="4.9" fill="#E0638B"/>
<circle cx="259.4" cy="632.6" r="2.5" fill="#E0638B"/>
<rect x="288.65" y="638.85" width="4.9" height="4.9" fill="#E0638B"/>
<circle cx="289.5" cy="649.8" r="2.5" fill="#E0638B"/>
<circle cx="288.0" cy="653.0" r="2.5" fill="#E0638B"/>
<circle cx="260.2" cy="653.0" r="2.5" fill="#E0638B"/>
<circle cx="314.0" cy="651.9" r="2.5" fill="#E0638B"/>
<circle cx="322.8" cy="638.5" r="2.5" fill="#E0638B"/>
<rect x="261.05" y="661.65" width="4.9" height="4.9" fill="#E0638B"/>
<rect x="327.95" y="669.45" width="4.9" height="4.9" fill="#E0638B"/>
<rect x="307.95" y="678.25" width="4.9" height="4.9" fill="#E0638B"/>
<rect x="323.05" y="685.25" width="4.9" height="4.9" fill="#E0638B"/>
<rect x="347.35" y="690.65" width="4.9" height="4.9" fill="#E0638B"/>
<path d="M365.80 624.99L369.10 630.71L362.50 630.71Z" fill="#E0638B"/>
<path d="M398.20 644.89L401.50 650.61L394.90 650.61Z" fill="#E0638B"/>
<circle cx="391.0" cy="682.4" r="2.5" fill="#E0638B"/>
<rect x="389.95" y="700.15" width="4.9" height="4.9" fill="#E0638B"/>
<path d="M384.60 444.99L387.90 450.71L381.30 450.71Z" fill="#3B0D50"/>
<path d="M382.60 448.39L385.90 454.11L379.30 454.11Z" fill="#3B0D50"/>
<circle cx="411.1" cy="454.8" r="2.5" fill="#3B0D50"/>
<path d="M445.00 440.09L448.30 445.81L441.70 445.81Z" fill="#3B0D50"/>
<path d="M457.20 423.79L460.50 429.51L453.90 429.51Z" fill="#3B0D50"/>
<circle cx="364.1" cy="473.0" r="2.5" fill="#3B0D50"/>
<path d="M475.00 434.39L478.30 440.11L471.70 440.11Z" fill="#3B0D50"/>
<path d="M522.50 463.29L525.80 469.01L519.20 469.01Z" fill="#3B0D50"/>
<path d="M472.80 478.49L476.10 484.21L469.50 484.21Z" fill="#3B0D50"/>
<path d="M456.70 481.09L460.00 486.81L453.40 486.81Z" fill="#3B0D50"/>
<rect x="483.95" y="491.15" width="4.9" height="4.9" fill="#3B0D50"/>
<rect x="508.75" y="494.15" width="4.9" height="4.9" fill="#3B0D50"/>
<path d="M449.40 514.19L452.70 519.91L446.10 519.91Z" fill="#3B0D50"/>
<path d="M480.90 522.99L484.20 528.71L477.60 528.71Z" fill="#3B0D50"/>
<path d="M412.30 486.09L415.60 491.81L409.00 491.81Z" fill="#3B0D50"/>
<circle cx="415.2" cy="515.5" r="2.5" fill="#3B0D50"/>
<circle cx="420.6" cy="516.7" r="2.5" fill="#3B0D50"/>
<circle cx="411.1" cy="521.8" r="2.5" fill="#3B0D50"/>
<path d="M421.30 519.59L424.60 525.31L418.00 525.31Z" fill="#3B0D50"/>
<path d="M434.50 525.89L437.80 531.61L431.20 531.61Z" fill="#3B0D50"/>
<path d="M421.30 532.19L424.60 537.91L418.00 537.91Z" fill="#3B0D50"/>
<path d="M416.60 544.59L419.90 550.31L413.30 550.31Z" fill="#3B0D50"/>
<circle cx="431.2" cy="552.2" r="2.5" fill="#3B0D50"/>
<circle cx="388.5" cy="559.5" r="2.5" fill="#3B0D50"/>
<circle cx="416.6" cy="554.1" r="2.5" fill="#3B0D50"/>
<rect x="451.05" y="558.15" width="4.9" height="4.9" fill="#3B0D50"/>
<path d="M435.60 566.49L438.90 572.21L432.30 572.21Z" fill="#3B0D50"/>
<rect x="453.75" y="571.65" width="4.9" height="4.9" fill="#3B0D50"/>
<rect x="467.05" y="542.85" width="4.9" height="4.9" fill="#3B0D50"/>
<rect x="460.15" y="567.65" width="4.9" height="4.9" fill="#3B0D50"/>
<rect x="466.05" y="581.85" width="4.9" height="4.9" fill="#3B0D50"/>
<rect x="446.65" y="587.55" width="4.9" height="4.9" fill="#3B0D50"/>
<circle cx="365.5" cy="566.3" r="2.5" fill="#3B0D50"/>
<circle cx="363.8" cy="571.1" r="2.5" fill="#3B0D50"/>
<circle cx="369.1" cy="587.2" r="2.5" fill="#3B0D50"/>
<circle cx="416.9" cy="586.2" r="2.5" fill="#3B0D50"/>
<circle cx="398.7" cy="595.1" r="2.5" fill="#3B0D50"/>
<path d="M416.20 595.09L419.50 600.81L412.90 600.81Z" fill="#3B0D50"/>
<rect x="421.75" y="604.75" width="4.9" height="4.9" fill="#3B0D50"/>
<circle cx="403.5" cy="611.9" r="2.5" fill="#3B0D50"/>
<path d="M371.40 612.79L374.70 618.51L368.10 618.51Z" fill="#3B0D50"/>
<circle cx="400.9" cy="628.2" r="2.5" fill="#3B0D50"/>
<rect x="434.95" y="627.65" width="4.9" height="4.9" fill="#3B0D50"/>
<rect x="431.25" y="634.25" width="4.9" height="4.9" fill="#3B0D50"/>
<rect x="430.55" y="637.95" width="4.9" height="4.9" fill="#3B0D50"/>
<rect x="450.95" y="632.05" width="4.9" height="4.9" fill="#3B0D50"/>
<rect x="444.05" y="636.05" width="4.9" height="4.9" fill="#3B0D50"/>
<rect x="446.15" y="643.95" width="4.9" height="4.9" fill="#3B0D50"/>
<rect x="461.15" y="620.85" width="4.9" height="4.9" fill="#3B0D50"/>
<circle cx="373.9" cy="643.3" r="2.5" fill="#3B0D50"/>
<rect x="401.05" y="646.65" width="4.9" height="4.9" fill="#3B0D50"/>
<circle cx="320.1" cy="640.8" r="2.5" fill="#3B0D50"/>
<circle cx="366.4" cy="663.9" r="2.5" fill="#3B0D50"/>
<path d="M375.20 659.59L378.50 665.31L371.90 665.31Z" fill="#3B0D50"/>
<rect x="426.45" y="658.55" width="4.9" height="4.9" fill="#3B0D50"/>
<path d="M391.40 675.29L394.70 681.01L388.10 681.01Z" fill="#3B0D50"/>
<circle cx="337.2" cy="678.5" r="2.5" fill="#3B0D50"/>
<circle cx="386.7" cy="722.2" r="2.5" fill="#3B0D50"/>
<rect x="383.05" y="731.75" width="4.9" height="4.9" fill="#3B0D50"/>
<rect x="417.15" y="753.65" width="4.9" height="4.9" fill="#3B0D50"/>
<rect x="596.25" y="596.85" width="4.9" height="4.9" fill="#3B0D50"/>
<path d="M343.00 559.29L346.30 565.01L339.70 565.01Z" fill="#3B0D50"/>
<circle cx="324.3" cy="588.8" r="2.5" fill="#3B0D50"/>
<circle cx="295.2" cy="534.0" r="2.5" fill="#3B0D50"/>
<path d="M44.2 582.00H625.3" stroke="#5c5c5c" stroke-width="1.35" stroke-dasharray="5.55 2.67" fill="none"/>
<path d="M366.10 772.4V411.4" stroke="#5c5c5c" stroke-width="1.35" stroke-dasharray="5.55 2.67" fill="none"/>
<rect x="44.2" y="411.4" width="581.10" height="361.00" fill="none" stroke="#777" stroke-width="1.1"/>
<path d="M71.60 772.4V776.8" stroke="#555555" stroke-width="1.1"/>
<text x="62.27" y="789.30" font-size="10.0" fill="#1c1c1c" textLength="18.46" lengthAdjust="spacingAndGlyphs">−50</text>
<path d="M218.85 772.4V776.8" stroke="#555555" stroke-width="1.1"/>
<text x="210.72" y="789.30" font-size="10.0" fill="#1c1c1c" textLength="16.49" lengthAdjust="spacingAndGlyphs">−25</text>
<path d="M366.10 772.4V776.8" stroke="#555555" stroke-width="1.1"/>
<text x="362.49" y="789.30" font-size="10.0" fill="#1c1c1c" textLength="7.21" lengthAdjust="spacingAndGlyphs">0</text>
<path d="M513.35 772.4V776.8" stroke="#555555" stroke-width="1.1"/>
<text x="507.05" y="789.30" font-size="10.0" fill="#1c1c1c" textLength="12.21" lengthAdjust="spacingAndGlyphs">25</text>
<path d="M39.3 482.50H44.2" stroke="#555555" stroke-width="1.1"/>
<text x="21.92" y="486.10" font-size="10.0" fill="#1c1c1c" textLength="12.83" lengthAdjust="spacingAndGlyphs">20</text>
<path d="M39.3 582.00H44.2" stroke="#555555" stroke-width="1.1"/>
<text x="28.13" y="585.60" font-size="10.0" fill="#1c1c1c" textLength="6.63" lengthAdjust="spacingAndGlyphs">0</text>
<path d="M39.3 681.50H44.2" stroke="#555555" stroke-width="1.1"/>
<text x="17.40" y="685.10" font-size="10.0" fill="#1c1c1c" textLength="17.30" lengthAdjust="spacingAndGlyphs">−20</text>
<text x="322.94" y="804.80" font-size="12" fill="#1c1c1c" textLength="23.38" lengthAdjust="spacingAndGlyphs">PC 1</text>
<text x="0" y="0" font-size="12" fill="#1c1c1c" textLength="25.84" lengthAdjust="spacingAndGlyphs" transform="translate(10.20 604.55) rotate(-90)">PC 2</text>
<text x="631.43" y="532.80" font-size="12" fill="#1c1c1c" textLength="35.20" lengthAdjust="spacingAndGlyphs">Tissue</text>
<circle cx="640.5" cy="547.2" r="2.8" fill="#E0638B"/>
<circle cx="640.5" cy="563.4" r="2.8" fill="#3B0D50"/>
<text x="647.33" y="550.90" font-size="12" fill="#1c1c1c" textLength="33.52" lengthAdjust="spacingAndGlyphs">Blood</text>
<text x="648.53" y="566.80" font-size="12" fill="#1c1c1c" textLength="34.78" lengthAdjust="spacingAndGlyphs">Tumor</text>
<text x="630.96" y="591.80" font-size="12" fill="#1c1c1c" textLength="53.56" lengthAdjust="spacingAndGlyphs">Predicted</text>
<text x="636.81" y="605.70" font-size="12" fill="#1c1c1c" textLength="42.23" lengthAdjust="spacingAndGlyphs">identity</text>
<circle cx="640.6" cy="617.9" r="2.5" fill="#000"/>
<path d="M640.6 629.3L644.0 635.2L637.2 635.2Z" fill="#000"/>
<rect x="638.3" y="646.6" width="4.7" height="4.7" fill="#000"/>
<text x="647.93" y="621.30" font-size="12" fill="#1c1c1c" textLength="20.59" lengthAdjust="spacingAndGlyphs">NK1</text>
<text x="647.84" y="636.20" font-size="12" fill="#1c1c1c" textLength="22.85" lengthAdjust="spacingAndGlyphs">NK2</text>
<text x="647.80" y="651.60" font-size="12" fill="#1c1c1c" textLength="23.63" lengthAdjust="spacingAndGlyphs">NK3</text>
</svg>
</body></html>
